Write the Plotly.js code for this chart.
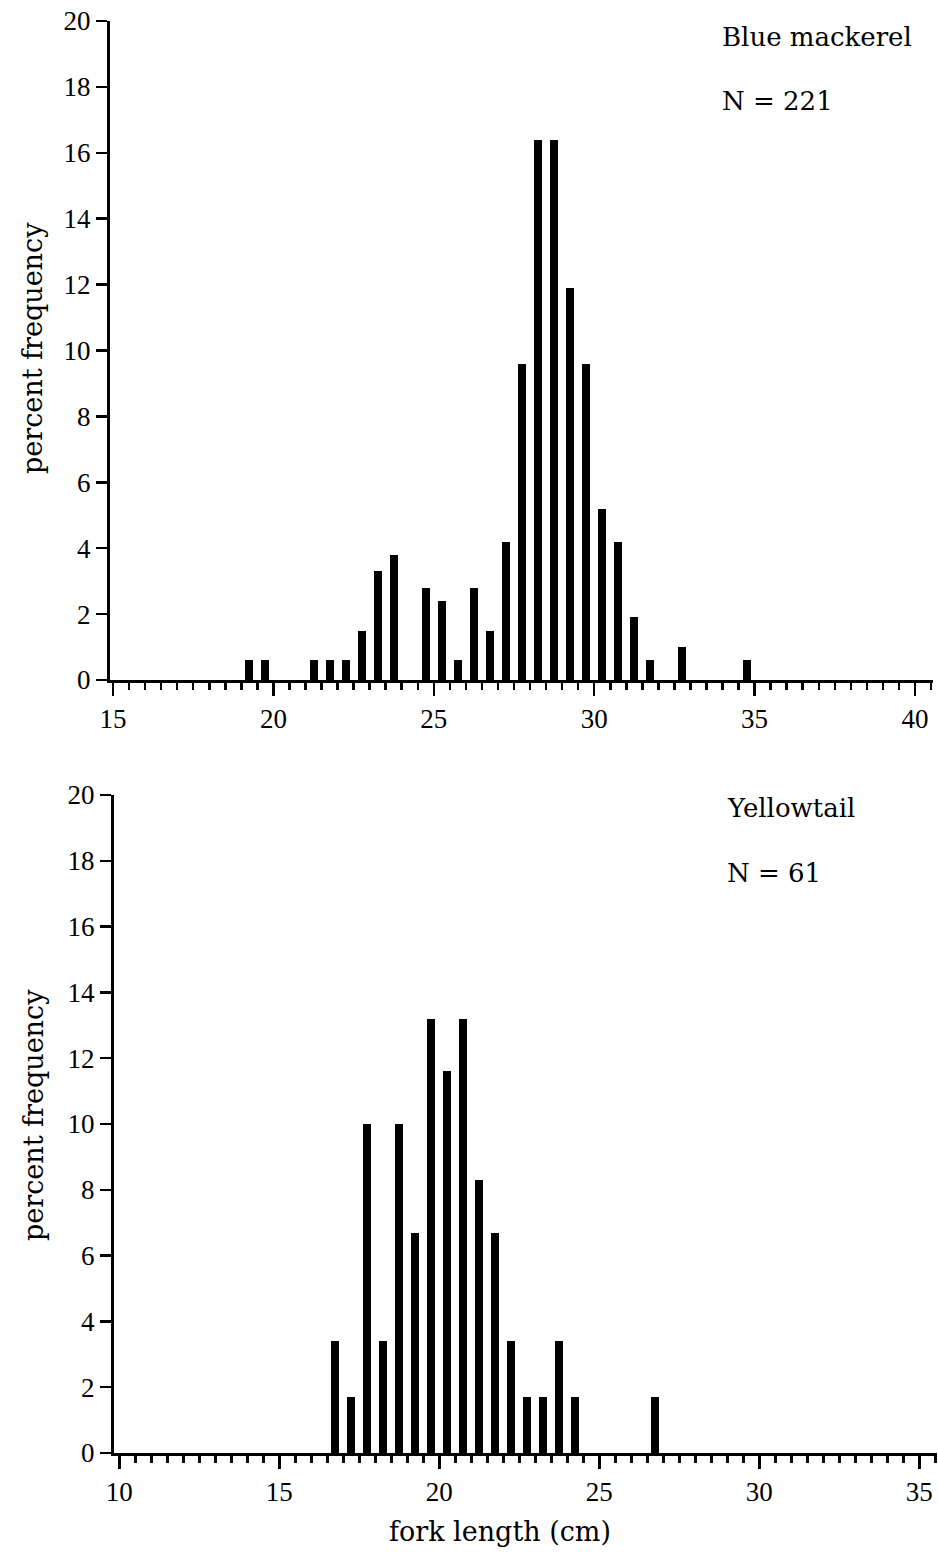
<!DOCTYPE html>
<html>
<head>
<meta charset="utf-8">
<script src="https://cdn.plot.ly/plotly-3.0.1.min.js"></script>
<style>
  html, body { margin: 0; padding: 0; background: #fff; }
  #chart { width: 938px; height: 1552px; }
</style>
</head>
<body>
<div id="chart"></div>
<script>
// ---- Data ----
// Blue mackerel (N = 221): fork length bin centres (cm) and percent frequency
const mackerelLength = [19.25, 19.75, 21.25, 21.75, 22.25, 22.75, 23.25, 23.75, 24.75, 25.25, 25.75, 26.25, 26.75, 27.25, 27.75, 28.25, 28.75, 29.25, 29.75, 30.25, 30.75, 31.25, 31.75, 32.75, 34.75];
const mackerelPercent = [0.6, 0.6, 0.6, 0.6, 0.6, 1.5, 3.3, 3.8, 2.8, 2.4, 0.6, 2.8, 1.5, 4.2, 9.6, 16.4, 16.4, 11.9, 9.6, 5.2, 4.2, 1.9, 0.6, 1.0, 0.6];

// Yellowtail (N = 61)
const yellowtailLength = [16.75, 17.25, 17.75, 18.25, 18.75, 19.25, 19.75, 20.25, 20.75, 21.25, 21.75, 22.25, 22.75, 23.25, 23.75, 24.25, 26.75];
const yellowtailPercent = [3.4, 1.7, 10.0, 3.4, 10.0, 6.7, 13.2, 11.6, 13.2, 8.3, 6.7, 3.4, 1.7, 1.7, 3.4, 1.7, 1.7];

const panelLabels = ["Blue mackerel", "Yellowtail"];
const sampleSizes = ["N = 221", "N = 61"];
const yTickVals = [0, 2, 4, 6, 8, 10, 12, 14, 16, 18, 20];
const yAxisTitle = "percent frequency";
const xAxisTitle = "fork length (cm)";

// ---- Layout helpers (pixel -> paper) ----
const W = 938, H = 1552;
const px = v => v / W;
const py = v => 1 - v / H;

const SERIF = "DejaVu Serif, serif";
const TICKFONT = {family: "Liberation Serif, serif", size: 27, color: "#000"};

function xAxis(domain, range, anchor) {
  return {
    domain: domain, range: range, anchor: anchor,
    showgrid: false, zeroline: false, automargin: false,
    showline: true, linecolor: "#000", linewidth: 2.5,
    ticks: "outside", ticklen: 13, tickwidth: 2.5, tickcolor: "#000",
    tick0: 0, dtick: 5, tickfont: TICKFONT,
    minor: {ticks: "outside", dtick: 0.5, ticklen: 7, tickwidth: 2.5, tickcolor: "#000", showgrid: false},
    fixedrange: true
  };
}
function yAxis(domain, anchor) {
  return {
    domain: domain, range: [0, 20], anchor: anchor,
    showgrid: false, zeroline: false, automargin: false,
    showline: true, linecolor: "#000", linewidth: 3,
    ticks: "outside", ticklen: 11, tickwidth: 2.5, tickcolor: "#000",
    tickvals: yTickVals, tickfont: TICKFONT, ticklabelstandoff: 0,
    fixedrange: true
  };
}

const traces = [
  {type: "bar", x: mackerelLength, y: mackerelPercent, width: 0.25,
   marker: {color: "#000", line: {width: 0}}, xaxis: "x", yaxis: "y", hoverinfo: "skip"},
  {type: "bar", x: yellowtailLength, y: yellowtailPercent, width: 0.25,
   marker: {color: "#000", line: {width: 0}}, xaxis: "x2", yaxis: "y2", hoverinfo: "skip"}
];

const ann = (text, x, y, opts) => Object.assign({
  text: text, xref: "paper", yref: "paper", x: px(x), y: py(y),
  xanchor: "left", yanchor: "middle", showarrow: false,
  font: {family: SERIF, size: 26, color: "#000"}
}, opts || {});

const layout = {
  width: W, height: H,
  margin: {l: 0, r: 0, t: 0, b: 0},
  paper_bgcolor: "#fff", plot_bgcolor: "#fff",
  showlegend: false, bargap: 0,
  xaxis: xAxis([px(110), px(933)], [14.906, 40.561], "y"),
  yaxis: yAxis([py(680), py(21)], "x"),
  xaxis2: xAxis([px(114), px(937)], [9.834, 35.553], "y2"),
  yaxis2: yAxis([py(1453), py(795)], "x2"),
  annotations: [
    ann(panelLabels[0], 720, 37),
    ann(sampleSizes[0], 720, 101),
    ann(panelLabels[1], 725, 808),
    ann(sampleSizes[1], 725, 873),
    ann(yAxisTitle, 33, 348, {xanchor: "center", textangle: -90, font: {family: SERIF, size: 27, color: "#000"}}),
    ann(yAxisTitle, 33, 1115, {xanchor: "center", textangle: -90, font: {family: SERIF, size: 27, color: "#000"}}),
    ann(xAxisTitle, 500, 1531, {xanchor: "center", font: {family: SERIF, size: 27, color: "#000"}})
  ]
};

Plotly.newPlot("chart", traces, layout, {staticPlot: true, displayModeBar: false});
</script>
</body>
</html>
